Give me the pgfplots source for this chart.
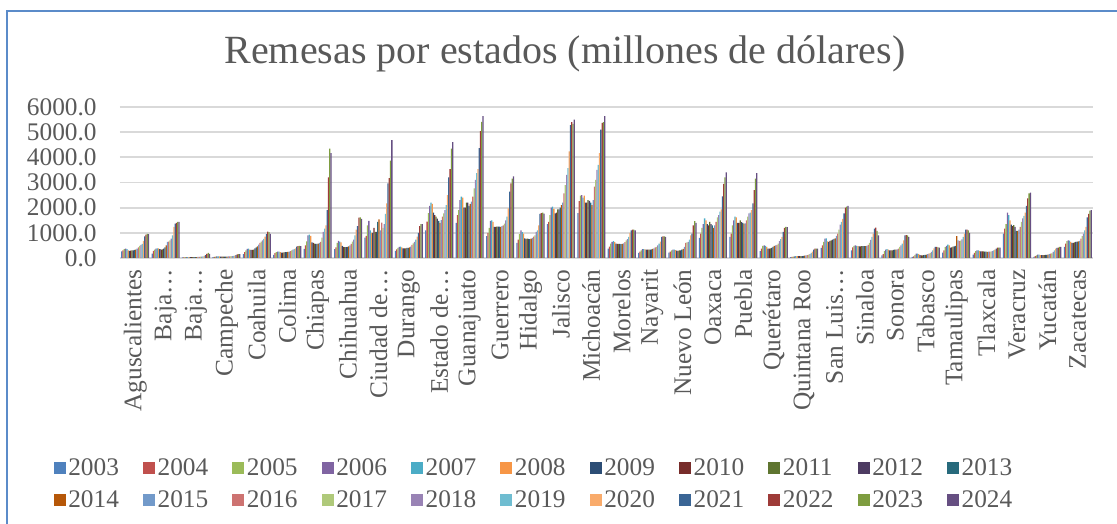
\documentclass[border=0pt]{standalone}
\usepackage{pgfplots}
\pgfplotsset{compat=1.18}
\usepackage{pgfplotstable}
\usepackage{fontspec}
\setmainfont{Liberation Serif}
\definecolor{txt}{HTML}{595959}
\definecolor{gridc}{HTML}{D9D9D9}
\definecolor{framec}{HTML}{5B8BC9}
\definecolor{c2003}{HTML}{4F81BD}
\definecolor{c2004}{HTML}{C0504D}
\definecolor{c2005}{HTML}{9BBB59}
\definecolor{c2006}{HTML}{8064A2}
\definecolor{c2007}{HTML}{4BACC6}
\definecolor{c2008}{HTML}{F79646}
\definecolor{c2009}{HTML}{2C4D75}
\definecolor{c2010}{HTML}{772C2A}
\definecolor{c2011}{HTML}{5F7530}
\definecolor{c2012}{HTML}{4D3B62}
\definecolor{c2013}{HTML}{276A7C}
\definecolor{c2014}{HTML}{B65708}
\definecolor{c2015}{HTML}{729ACA}
\definecolor{c2016}{HTML}{CD7371}
\definecolor{c2017}{HTML}{AFC97A}
\definecolor{c2018}{HTML}{9983B5}
\definecolor{c2019}{HTML}{6FBDD1}
\definecolor{c2020}{HTML}{F9AB6B}
\definecolor{c2021}{HTML}{3A6595}
\definecolor{c2022}{HTML}{9E3B38}
\definecolor{c2023}{HTML}{7E9D40}
\definecolor{c2024}{HTML}{664F82}
\pgfplotstableread{
idx y2003 y2004 y2005 y2006 y2007 y2008 y2009 y2010 y2011 y2012 y2013 y2014 y2015 y2016 y2017 y2018 y2019 y2020 y2021 y2022 y2023 y2024
0 260 300 350 370 350 300 280 290 300 300 320 330 370 420 480 520 560 680 860 930 960 950
1 170 280 330 370 380 380 350 330 340 370 420 500 640 650 700 770 900 1240 1370 1400 1440 1440
2 20 25 30 35 35 35 30 30 30 30 35 35 40 45 50 55 60 80 110 160 200 160
3 30 40 50 60 60 60 55 50 50 50 55 55 60 65 70 75 80 90 110 140 150 150
4 150 230 300 360 370 330 320 320 330 380 420 460 530 600 650 700 760 850 950 1050 1030 960
5 120 190 230 250 250 230 210 210 220 230 230 240 250 270 300 330 350 380 450 470 480 470
6 360 500 660 900 930 880 620 600 570 560 560 570 600 640 810 1040 1170 1300 1900 3200 4350 4170
7 350 420 600 680 650 620 480 440 430 430 440 460 500 560 650 730 900 1130 1270 1600 1610 1550
8 810 880 1300 1480 1100 1000 1000 1200 1040 1040 1440 1530 1100 1410 1200 1350 1750 2170 2970 3170 3870 4680
9 280 340 400 440 450 420 380 380 380 400 400 420 450 520 580 640 730 850 1000 1270 1350 1350
10 1100 1450 1780 2070 2200 2150 1800 1700 1640 1560 1480 1400 1510 1640 1770 1900 2100 2500 3200 3530 4350 4600
11 1400 1700 1900 2300 2440 2400 2000 2000 2200 2200 2070 2150 2240 2440 2770 3100 3370 3530 4370 5040 5410 5640
12 870 1000 1200 1480 1500 1440 1240 1240 1250 1250 1250 1240 1270 1300 1370 1500 1640 1970 2640 2970 3150 3240
13 600 730 950 1100 1030 970 780 760 770 760 750 770 800 850 900 1040 1100 1300 1750 1780 1800 1760
14 1350 1440 1700 2000 2040 1950 1770 1800 1930 1930 2000 2100 2200 2570 2900 3300 3570 4240 5280 5400 5330 5500
15 1780 2260 2480 2500 2400 2480 2200 2200 2300 2270 2200 2100 2300 2840 3100 3500 3700 4170 5100 5370 5400 5640
16 370 450 570 640 670 630 570 560 560 560 550 560 580 630 700 750 840 1000 1100 1130 1130 1100
17 200 250 300 350 350 340 330 330 330 330 340 360 380 420 440 500 570 650 840 860 860 840
18 210 250 300 330 330 310 290 280 300 300 330 360 440 600 620 640 730 900 970 1300 1470 1400
19 800 970 1200 1350 1570 1500 1350 1300 1440 1350 1300 1200 1300 1440 1610 1700 1840 1930 2450 2950 3200 3400
20 840 970 1300 1500 1640 1610 1400 1400 1500 1430 1400 1370 1380 1500 1640 1770 1800 1900 2170 2700 3150 3370
21 270 370 480 500 480 440 370 370 380 400 440 480 500 520 570 670 750 840 1040 1200 1240 1230
22 30 40 50 60 70 75 70 70 70 75 80 90 100 110 130 150 200 250 330 370 370 370
23 400 500 640 770 780 660 640 680 700 730 760 780 880 970 1130 1330 1440 1550 1770 2000 2040 2070
24 300 420 480 500 480 470 460 460 470 470 470 470 480 520 600 720 840 970 1170 1210 1080 900
25 100 150 270 330 350 330 300 300 300 320 330 330 340 370 440 500 570 700 900 910 900 840
26 40 60 120 170 170 150 110 100 100 110 120 130 150 170 190 240 300 380 440 440 420 410
27 210 300 430 480 530 500 410 420 450 460 480 870 700 680 690 740 840 970 1130 1130 1100 1000
28 130 200 270 300 300 280 260 260 260 250 250 240 250 250 250 270 300 330 370 410 410 410
29 970 1170 1350 1800 1700 1500 1330 1270 1310 1240 1080 1080 1130 1240 1440 1570 1670 1800 2070 2370 2570 2600
30 40 70 100 130 130 110 110 110 110 120 120 130 150 170 180 240 300 370 400 410 440 440
31 440 570 670 700 690 640 600 600 620 640 650 660 680 770 870 970 1100 1240 1610 1750 1880 1900
}\data
\begin{document}
\begin{tikzpicture}
\path[use as bounding box] (-90pt,-199.5pt) rectangle (747.75pt,193.5pt);
\draw[framec, line width=1.6pt] (-84.75pt,-201pt) -- (-84.75pt,185.25pt) -- (750pt,185.25pt);
\node[text=txt, font=\fontsize{30}{36}\selectfont] at (333.75pt,153pt) {Remesas por estados (millones de dólares)};
\begin{axis}[
  scale only axis,
  width=729.75pt, height=113.25pt,
  ybar=0pt, bar width=0.042,
  xmin=-0.5, xmax=31.5, ymin=0, ymax=6000,
  enlargelimits=false,
  axis line style={draw=none},
  major tick length=0pt,
  ymajorgrids,
  grid style={line width=1.3pt, gridc},
  ytick={0,1000,...,6000},
  xtick={0,...,31},
  xticklabels={Aguscalientes,Baja…,Baja…,Campeche,Coahuila,Colima,Chiapas,Chihuahua,Ciudad de…,Durango,Estado de…,Guanajuato,Guerrero,Hidalgo,Jalisco,Michoacán,Morelos,Nayarit,Nuevo León,Oaxaca,Puebla,Querétaro,Quintana Roo,San Luis…,Sinaloa,Sonora,Tabasco,Tamaulipas,Tlaxcala,Veracruz,Yucatán,Zacatecas},
  /pgf/number format/assume math mode=true,
  yticklabel style={/pgf/number format/fixed, /pgf/number format/fixed zerofill, /pgf/number format/precision=1, /pgf/number format/1000 sep={}, text=txt, font=\fontsize{19}{22}\selectfont, xshift=-14pt},
  xticklabel style={yshift=-5pt, rotate=90, anchor=east, text=txt, font=\fontsize{19}{22}\selectfont},
  legend columns=11,
  legend image code/.code={\fill[#1] (0pt,-4.5pt) rectangle (9pt,4.5pt);},
  legend style={draw=none, fill=none, at={(rel axis cs:0,0)}, anchor=north west, xshift=-50pt, yshift=-148pt, inner sep=0pt, text=txt, font=\fontsize{19}{22}\selectfont, row sep=6pt, /tikz/every even column/.append style={column sep=16pt}, cells={anchor=west}},
]
\pgfplotsinvokeforeach{2003,...,2024}{
  \addplot[fill=c#1, draw=none] table[x=idx, y=y#1] {\data};
  \addlegendentry{#1}
}
\end{axis}
\end{tikzpicture}
\end{document}
